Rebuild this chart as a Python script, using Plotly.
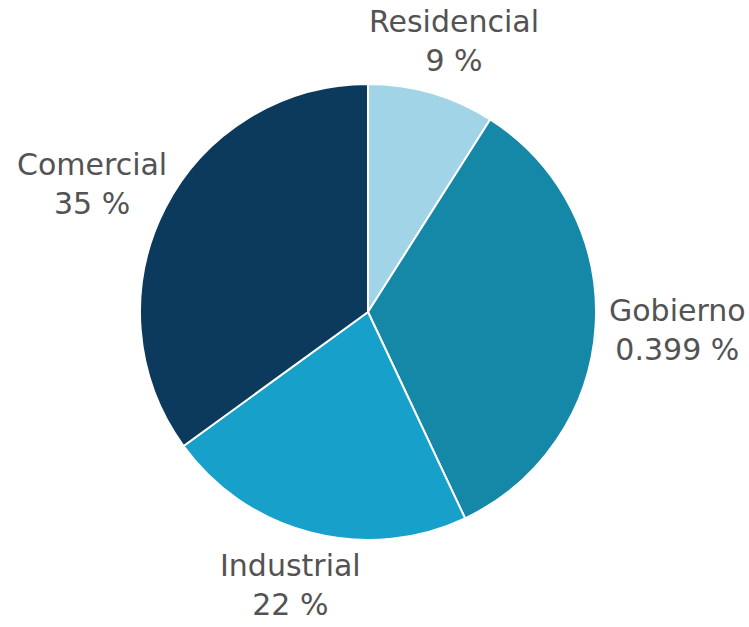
import math
import plotly.graph_objects as go

labels = ["Residencial", "Gobierno", "Industrial", "Comercial"]
values = [9, 34, 22, 35]
value_text = ["9 %", "0.399 %", "22 %", "35 %"]
colors = ["#a0d4e6", "#1587a7", "#17a0c9", "#0c3a5d"]

W, H = 749, 627
CX, CY, R = 368, 312, 228          # pie centre / radius in px (from top-left)
LRX, LRY = 310, 282                # label ellipse radii in px

fig = go.Figure(go.Pie(
    labels=labels,
    values=values,
    textinfo="none",
    marker=dict(colors=colors, line=dict(color="white", width=2)),
    sort=False,
    direction="clockwise",
    rotation=0,
    showlegend=False,
    domain=dict(x=[(CX - R) / W, (CX + R) / W],
                y=[(H - CY - R) / H, (H - CY + R) / H]),
))

total = sum(values)
cum = 0
annotations = []
for lab, v, t in zip(labels, values, value_text):
    mid = (cum + v / 2) / total * 2 * math.pi
    cum += v
    x = CX + LRX * math.sin(mid)
    y = CY - LRY * math.cos(mid)
    annotations.append(dict(
        x=x / W, y=1 - y / H, xref="paper", yref="paper",
        text=f"{lab}<br>{t}", showarrow=False,
        xanchor="center", yanchor="middle", align="center",
        font=dict(family="DejaVu Sans", size=30, color="#535353"),
    ))

fig.update_layout(
    width=W, height=H,
    margin=dict(l=0, r=0, t=0, b=0),
    paper_bgcolor="white",
    plot_bgcolor="white",
    annotations=annotations,
)

fig.write_html("out.html",
               config={"displayModeBar": False},
               post_script="document.body.style.margin='0';document.body.style.overflow='hidden';")
